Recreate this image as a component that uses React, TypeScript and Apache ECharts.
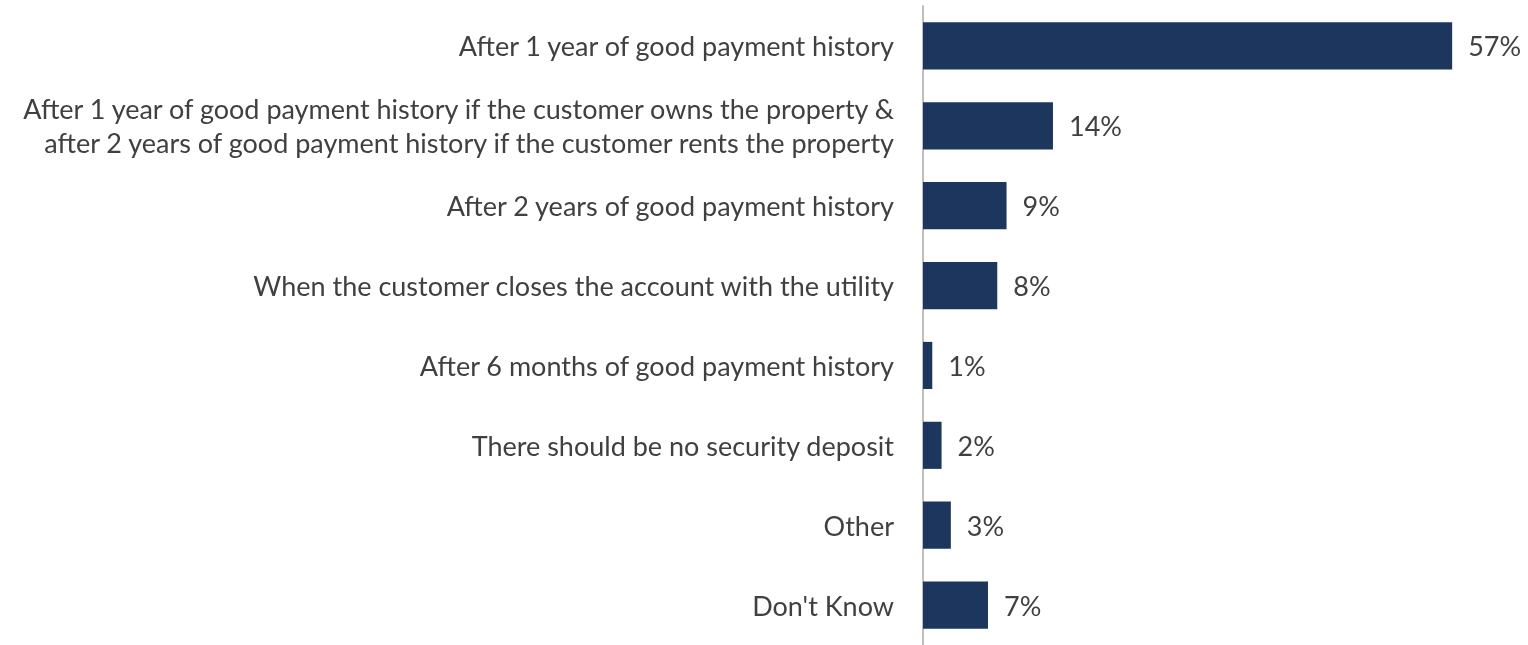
import React, { useEffect, useRef } from "react";
import * as echarts from "echarts";

const categories = [
  "After 1 year of good payment history",
  "After 1 year of good payment history if the customer owns the property &\nafter 2 years of good payment history if the customer rents the property",
  "After 2 years of good payment history",
  "When the customer closes the account with the utility",
  "After 6 months of good payment history",
  "There should be no security deposit",
  "Other",
  "Don't Know",
];
const values = [57, 14, 9, 8, 1, 2, 3, 7];

const FONT = "Lato";

export default function App() {
  const ref = useRef<HTMLDivElement>(null);
  useEffect(() => {
    const chart = echarts.init(ref.current!, null, { renderer: "svg" });
    chart.setOption({
      animation: false,
      grid: { left: 923, right: 48, top: 6, bottom: 0, containLabel: false },
      xAxis: {
        type: "value",
        min: 0,
        max: 60,
        show: false,
      },
      yAxis: {
        type: "category",
        inverse: true,
        data: categories,
        axisLine: { show: true, lineStyle: { color: "#BFBFBF", width: 2 } },
        axisTick: { show: false },
        axisLabel: {
          margin: 29,
          color: "#404040",
          fontFamily: FONT,
          fontSize: 27,
          lineHeight: 34,
          align: "right",
        },
      },
      series: [
        {
          type: "bar",
          data: values,
          barWidth: "59%",
          itemStyle: { color: "#1D365D" },
          label: {
            show: true,
            position: "right",
            distance: 16,
            formatter: "{c}%",
            color: "#404040",
            fontFamily: FONT,
            fontSize: 27,
          },
        },
      ],
    });
    return () => chart.dispose();
  }, []);
  return (
    <div
      ref={ref}
      style={{ position: "fixed", left: 0, top: 0, width: 1528, height: 645 }}
    />
  );
}
